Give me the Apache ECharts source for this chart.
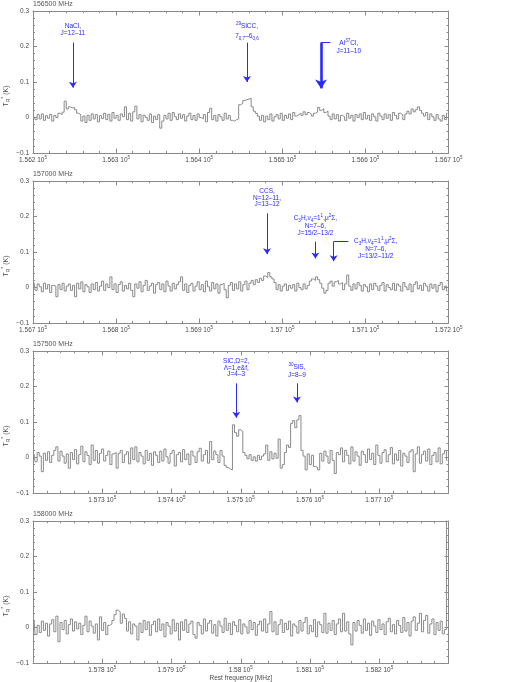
<!DOCTYPE html>
<html><head><meta charset="utf-8">
<script src="https://cdn.jsdelivr.net/npm/echarts/dist/echarts.min.js"></script>
<style>html,body{margin:0;padding:0;background:#fff}#c{width:518px;height:682px}</style>
</head><body><div id="c"></div>
<script>
// ---------------- data ----------------
const panelTitles = ['156500 MHz', '157000 MHz', '157500 MHz', '158000 MHz'];
const freqStart = [156200, 156700, 157200, 157700];   // MHz
const freqEnd   = [156700, 157200, 157800, 158300];   // MHz
const chanWidth = [2.5, 2.5, 3, 3];                   // MHz per channel
const showEndLabels = [true, true, false, false];
const yTickValues = [-0.1, 0, 0.1, 0.2, 0.3];         // K

// antenna temperature per channel, in mK
const spec1 = [2,-6,8,-4,10,-8,5,-2,9,-10,6,0,12,8,15,
46,24,30,27,28,22,12,8,
-10,4,-14,6,-8,10,-4,8,-12,5,-3,12,-6,9,-10,14,-2,6,
-8,10,2,30,-6,12,-10,16,32,-4,8,-12,6,0,-8,10,-14,4,-6,8,-30,
-10,6,-4,12,-8,14,2,-6,10,-2,8,-10,4,12,-6,6,-8,10,0,-4,8,-12,14,26,-6,6,-10,8,2,-8,12,-4,6,-8,-10,-6,-4,
36,40,48,50,52,54,30,18,12,4,
-8,6,-12,4,-6,10,-10,2,8,-4,12,-8,6,-2,10,-6,14,4,8,12,6,16,8,14,10,4,12,
15,28,20,25,14,18,
4,-6,10,-4,8,-10,6,2,-8,12,-2,6,-10,8,0,10,-6,14,-4,6,-8,10,2,-10,12,4,-6,10,-2,8,-8,14,6,-4,12,8,-6,10,
18,10,24,16,22,30,20,12,4,14,-6,10,2,-8,8,-4,-10,6,-6,12];

const spec2 = [14,-8,10,2,-12,12,-4,8,-14,6,4,
-26,
8,-6,12,-10,4,10,-8,6,
-26,
12,-4,16,-12,8,2,-14,10,-6,14,-10,4,18,-8,10,0,
30,
-6,10,-14,8,16,-10,6,-4,12,-8,
-26,
10,-2,16,-12,6,20,-8,4,12,-16,8,14,-6,10,-12,18,4,-10,12,-4,8,16,
30,
-8,10,-14,6,12,-10,4,16,-6,8,-12,18,2,-10,14,-4,10,-16,8,12,-6,
-29,
6,14,-8,10,-4,16,-10,8,18,-6,12,20,8,22,14,
26,20,32,28,42,30,24,14,
-6,8,-10,4,10,-8,6,-2,8,-10,12,0,-6,10,-4,6,
18,24,20,30,22,12,-2,
-16,-8,12,18,4,16,20,10,14,-6,10,
35,
4,-8,10,-4,14,6,-10,8,2,-12,10,-6,12,4,-8,6,14,-10,8,0,-6,12,-8,10,4,-10,14,2,-6,10,-12,8,16,-4,6,-8,12,4,-10,10,-2,8,-12,6,14,-6,4,-10];

const spec3 = [10,-12,14,4,
-40,
12,-8,16,-14,6,20,
30,
-10,18,4,-16,10,
-30,
14,-6,22,-18,8,
32,
-12,16,6,-20,
35,
-8,20,-16,12,24,-10,6,18,-20,10,14,
-30,
12,20,-14,8,16,-18,
27,-6,30,
-12,14,4,-18,20,-8,12,-22,16,6,-14,18,-10,24,2,-16,12,20,-24,8,14,-12,22,-6,10,-20,18,4,-14,16,26,-10,8,20,-16,
45,
-6,18,8,-14,20,4,-22,-28,-32,-35,
92,70,60,78,74,14,6,
-4,8,-8,2,-10,6,-6,4,
10,35,-8,16,-4,12,-2,52,-30,-20,14,35,28,
96,104,84,106,118,20,4,
-35,
10,-20,6,-25,-28,-35,12,-10,18,4,-16,20,-8,-45,14,8,27,-12,20,6,-18,30,-10,16,4,-22,18,8,-14,24,-6,12,-20,35,6,-16,14,22,-12,8,28,-18,10,-8,20,-24,12,4,-14,16,22,-40,10,30,-16,8,18,-10,24,-20,6,14,-12,27,-18,10,20,-8];

const spec4 = [20,-20,6,-14,18,-8,12,-24,10,22,-12,
32,-40,
14,-6,20,-18,8,24,-10,16,-4,12,-20,6,
32,
-12,18,4,-16,10,
-35,30,
-8,14,-20,6,10,
20,36,49,44,12,38,26,-10,
16,-18,10,4,
-35,
12,-14,20,-6,16,-22,8,18,-12,24,-8,10,-26,14,4,-18,22,-10,12,
-35,
16,-8,22,-14,10,18,-20,
-30,
14,6,-18,24,-10,12,20,-16,8,-24,18,4,-14,26,-8,12,-20,16,6,-12,22,-18,10,2,-16,20,-6,14,-22,8,18,-10,24,-14,10,
45,
-12,16,-20,8,22,-14,12,-6,18,-24,10,4,-16,20,-10,14,28,-18,6,-12,22,-26,16,8,-14,
40,
-16,12,-8,20,-20,10,24,-12,
40,
-10,16,-18,
-49,
14,-10,20,6,-16,24,-8,12,-22,18,4,-14,22,-6,10,-20,16,26,-12,8,-18,20,6,-14,28,-10,14,-24,18,30,-8,12,
40,
-12,20,34,-16,10,24,-20,14,-8,18,-18,-6,400];

const spectra = [spec1, spec2, spec3, spec4];

// line identifications: frequency (MHz), arrow top / arrow end (K), label
const arrows = [
  [{f:156248.0, top:0.211, end:0.084}, {f:156457.5, top:0.211, end:0.100}, {f:156546.6, top:0.211, end:0.082, thick:true}],
  [{f:156981.6, top:0.209, end:0.094}, {f:157039.8, top:0.129, end:0.082}, {f:157061.8, top:0.129, end:0.074}],
  [{f:157493.5, top:0.209, end:0.112}, {f:157581.2, top:0.209, end:0.155}],
  []
];
const leaders = [
  [{f1:156546.6, f2:156557.8, y:0.211}],
  [{f1:157061.8, f2:157079.5, y:0.129}],
  [], []
];
const lineLabels = [
  [
    {f:156248.0, y:0.228, va:'bottom', text:'{t|NaCl,}\n{t|J=12–11}'},
    {f:156457.5, y:0.216, va:'bottom', text:'{hi|29}{t|SiCC,}\n{t|7}{lo|0,7}{t|–6}{lo|0,6}'},
    {f:156580.0, y:0.224, va:'top', text:'{t|Al}{hi|37}{t|Cl,}\n{t|J=11–10}'}
  ],
  [
    {f:156981.6, y:0.225, va:'bottom', text:'{t|CCS,}\n{t|N=12–11,}\n{t|J=13–12}'},
    {f:157039.8, y:0.145, va:'bottom', text:'{t|C}{lo|3}{t|H,ν}{lo|4}{t|=1}{hi|1}{t|,μ}{hi|2}{t|Σ,}\n{t|N=7–6,}\n{t|J=15/2–13/2}'},
    {f:157112.4, y:0.143, va:'top', text:'{t|C}{lo|3}{t|H,ν}{lo|4}{t|=1}{hi|1}{t|,μ}{hi|2}{t|Σ,}\n{t|N=7–6,}\n{t|J=13/2–11/2}'}
  ],
  [
    {f:157493.5, y:0.224, va:'bottom', text:'{t|SiC,Ω=2,}\n{t|Λ=1,e&f,}\n{t|J=4–3}'},
    {f:157581.2, y:0.223, va:'bottom', text:'{hi|30}{t|SiS,}\n{t|J=8–9}'}
  ],
  []
];

// ---------------- styles ----------------
const FONT = '"Liberation Sans", Arial, sans-serif';
const AX = '#8a8a8a';
const TXT = '#4a4a4a';
const BLUE = '#2a2aff';
const annRich = {
  t:  {fontSize:6.5, lineHeight:6.6, color:BLUE, fontFamily:FONT, verticalAlign:'middle'},
  hi: {fontSize:4.6, height:4.6, lineHeight:9.6, padding:[0,0,5,0], color:BLUE, fontFamily:FONT, verticalAlign:'middle'},
  lo: {fontSize:4.6, height:4.6, lineHeight:9.6, padding:[5,0,0,0], color:BLUE, fontFamily:FONT, verticalAlign:'middle'}
};
const tickRich = {
  a: {fontSize:6.5, color:TXT, fontFamily:FONT, verticalAlign:'middle', lineHeight:8},
  e: {fontSize:4.5, height:4.5, lineHeight:9, padding:[0,0,4.5,0], color:TXT, fontFamily:FONT, verticalAlign:'middle'}
};
const nameRich = {
  t: {fontSize:7, color:TXT, fontFamily:FONT, verticalAlign:'middle', lineHeight:9},
  lo:{fontSize:5, height:5, lineHeight:11, padding:[5,0,0,0], color:TXT, fontFamily:FONT, verticalAlign:'middle'},
  hi:{fontSize:5, height:5, lineHeight:11, padding:[0,0,5,0], color:TXT, fontFamily:FONT, verticalAlign:'middle'}
};

const GRID_TOP = [11, 181, 351, 521];
const grids = GRID_TOP.map(t => ({left:33, width:415.5, top:t, height:142, outerBoundsMode:'none', containLabel:false}));

function freqLabel(v) {
  const s = parseFloat((v / 1e5).toFixed(4)).toString();
  return '{a|' + s + ' 10}{e|5}';
}
function yLabel(v) {
  if (Math.abs(v) < 1e-9) return '0';
  return v < 0 ? '−' + Math.abs(v).toFixed(1) : v.toFixed(1);
}

const xAxes = [], yAxes = [], series = [], titles = [];
for (let i = 0; i < 4; i++) {
  const tick = {show:true, inside:true, length:4.5, lineStyle:{color:AX, width:1}};
  const minor = {show:true, splitNumber:5, length:2.2, lineStyle:{color:AX, width:1}};
  const line = {show:true, onZero:false, lineStyle:{color:AX, width:1}};
  xAxes.push({
    type:'value', gridIndex:i, position:'bottom', min:freqStart[i], max:freqEnd[i], interval:100,
    axisLine:line, axisTick:tick, minorTick:minor, splitLine:{show:false}, minorSplitLine:{show:false},
    axisLabel:{show:true, margin:3, formatter:freqLabel, rich:tickRich, showMinLabel:showEndLabels[i], showMaxLabel:showEndLabels[i], hideOverlap:false},
    name: i === 3 ? 'Rest frequency [MHz]' : '', nameLocation:'middle', nameGap:12, nameMoveOverlap:false,
    nameTextStyle:{fontSize:6.5, color:TXT, fontFamily:FONT}
  });
  xAxes.push({
    type:'value', gridIndex:i, position:'top', min:freqStart[i], max:freqEnd[i], interval:100,
    axisLine:line, axisTick:tick, minorTick:minor, splitLine:{show:false}, axisLabel:{show:false}
  });
  yAxes.push({
    type:'value', gridIndex:i, position:'left', min:yTickValues[0], max:yTickValues[yTickValues.length-1], interval:0.1,
    axisLine:line, axisTick:{...tick, length:4}, minorTick:{...minor, length:2}, splitLine:{show:false},
    axisLabel:{show:true, margin:4, formatter:yLabel, fontSize:6.5, color:TXT, fontFamily:FONT},
    name:'{t|T}{lo|R}{hi|*}{t| (K)}', nameLocation:'middle', nameGap:21, nameRotate:90, nameMoveOverlap:false,
    nameTextStyle:{rich:nameRich, padding:[0,28,0,0]}
  });
  yAxes.push({
    type:'value', gridIndex:i, position:'right', min:yTickValues[0], max:yTickValues[yTickValues.length-1], interval:0.1,
    axisLine:line, axisTick:{...tick, length:4}, minorTick:{...minor, length:2}, splitLine:{show:false}, axisLabel:{show:false}
  });
  titles.push({text:panelTitles[i], left:33, top:GRID_TOP[i] - 10.5, padding:0,
    textStyle:{fontSize:7, fontWeight:'normal', color:'#555', fontFamily:FONT}});

  const mlData = arrows[i].map(a => [
    {coord:[a.f, a.top], symbol:'none', lineStyle:{width: a.thick ? 2.6 : 1, color:BLUE, type:'solid'}},
    {coord:[a.f, a.end], symbol:'arrow', symbolSize: a.thick ? 9 : 6, lineStyle:{width: a.thick ? 2.6 : 1, color:BLUE, type:'solid'}}
  ]).concat(leaders[i].map(l => [
    {coord:[l.f1, l.y], symbol:'none', lineStyle:{width:1, color:BLUE, type:'solid'}},
    {coord:[l.f2, l.y], symbol:'none', lineStyle:{width:1, color:BLUE, type:'solid'}}
  ]));

  const mpData = lineLabels[i].map(l => ({
    coord:[l.f, l.y], symbol:'rect', symbolSize:1, itemStyle:{color:'rgba(255,255,255,0)'},
    label:{show:true, position:'inside', align:'center', verticalAlign:l.va, formatter:() => l.text, rich:annRich, color:BLUE}
  }));

  series.push({
    type:'line', xAxisIndex:2*i, yAxisIndex:2*i, step:'middle', symbol:'none', showSymbol:false,
    clip:true, animation:false, silent:true,
    lineStyle:{color:'#8a8a8a', width:1},
    data: spectra[i].map((v, k) => [freqStart[i] + (k + 0.5) * chanWidth[i], v / 1000]),
    markLine:{silent:true, animation:false, symbol:['none','arrow'], label:{show:false},
      lineStyle:{color:BLUE, width:1, type:'solid'}, itemStyle:{color:BLUE}, emphasis:{disabled:true}, data:mlData},
    markPoint:{silent:true, animation:false, symbol:'rect', symbolSize:1, itemStyle:{color:'rgba(255,255,255,0)'},
      label:{show:true, color:BLUE}, data:mpData}
  });
}

const chart = echarts.init(document.getElementById('c'), null, {renderer:'canvas'});
chart.setOption({
  animation:false, backgroundColor:'#fff',
  title:titles, grid:grids, xAxis:xAxes, yAxis:yAxes, series:series
});
</script></body></html>
